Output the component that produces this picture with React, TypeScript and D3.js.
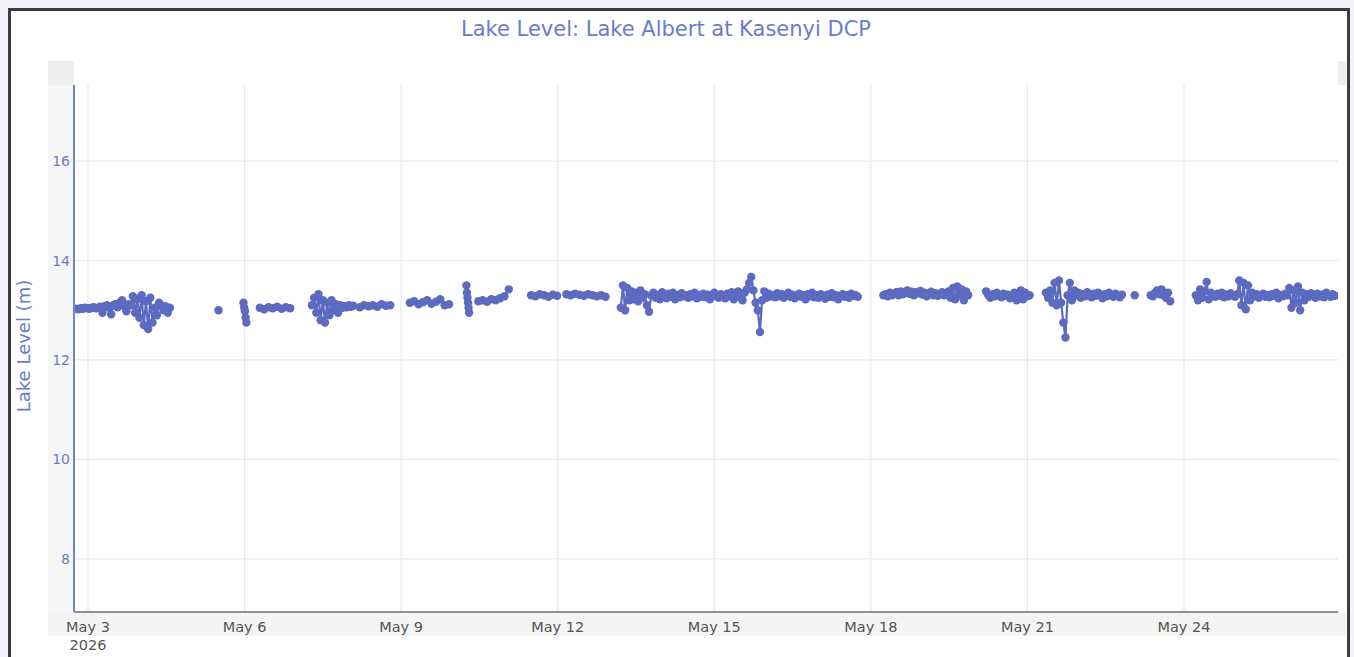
import * as d3 from 'd3';
import { useEffect, useRef } from 'react';

const width = 1354;
const height = 657;

const chartTitle = 'Lake Level: Lake Albert at Kasenyi DCP';
const yTitle = 'Lake Level (m)';
const yTicks = [8, 10, 12, 14, 16];
const xTicks = ['2026-05-03', '2026-05-06', '2026-05-09', '2026-05-12', '2026-05-15', '2026-05-18', '2026-05-21', '2026-05-24'];
const xDomain = ['2026-05-02 17:34', '2026-05-26 22:49'];
const yDomain = [6.93, 17.53];

// each segment: first reading time, reading interval (minutes), readings
const segStarts = [
  '2026-05-02 17:40', '2026-05-05 12:00', '2026-05-05 23:30', '2026-05-06 07:00',
  '2026-05-07 07:00', '2026-05-08 05:00', '2026-05-09 04:00', '2026-05-10 06:00',
  '2026-05-10 11:30', '2026-05-11 11:45', '2026-05-12 04:00', '2026-05-13 05:00',
  '2026-05-18 05:45', '2026-05-20 05:00', '2026-05-21 08:30', '2026-05-23 01:20',
  '2026-05-23 08:40', '2026-05-24 05:25',
];
const segSteps = [60, 60, 20, 120, 60, 120, 120, 15, 120, 120, 120, 60, 60, 60, 60, 60, 60, 60];

const segA = [
  13.02, 13.03, 13.02, 13.04, 13.03, 13.05, 13.04, 13.03, 13.05, 13.06, 13.04, 13.05,
  13.07, 12.95, 13.08, 13.1, 13.05, 12.92, 13.1, 13.12, 13.06, 13.15, 13.2, 13.08, 12.98, 13.12, 13.1,
  13.28, 12.95, 13.22, 12.85, 13.3, 12.7, 13.18, 12.62, 13.25, 12.75,
  13.05, 12.9, 13.15, 13.1, 13.0, 13.08, 12.95, 13.05,
];
const segB = [13.0];
const segC = [13.15, 13.05, 12.98, 12.85, 12.75];
const segD = [13.05, 13.02, 13.06, 13.04, 13.07, 13.03, 13.06, 13.04];
const segE = [13.1, 13.25, 12.95, 13.32, 12.8, 13.2, 12.75, 13.15, 12.9, 13.2, 13.0, 13.12, 12.95, 13.1, 13.05, 13.08, 13.06, 13.1, 13.07, 13.09];
const segF = [13.06, 13.1, 13.08, 13.1, 13.07, 13.12, 13.09, 13.1];
const segG = [13.15, 13.18, 13.12, 13.16, 13.2, 13.13, 13.17, 13.22, 13.1, 13.12];
const segH = [13.5, 13.35, 13.25, 13.15, 13.05, 12.95];
const segI = [13.18, 13.2, 13.17, 13.22, 13.2, 13.24, 13.28, 13.42];
const segJ = [13.3, 13.28, 13.32, 13.3, 13.27, 13.31, 13.29];
const segK = [13.32, 13.3, 13.33, 13.31, 13.29, 13.32, 13.3, 13.28, 13.3, 13.27];
const segL = [
  13.05, 13.5, 13.0, 13.45, 13.2,
  13.38, 13.22, 13.35, 13.18, 13.4, 13.25, 13.32, 13.1, 12.97, 13.3,
  13.35, 13.25, 13.3, 13.22, 13.36, 13.28, 13.24, 13.33, 13.27, 13.35, 13.22, 13.3, 13.26, 13.34, 13.28,
  13.3, 13.25, 13.32, 13.28, 13.35, 13.24, 13.3, 13.27, 13.33, 13.26, 13.31, 13.22, 13.3, 13.35, 13.28,
  13.25, 13.32, 13.3, 13.24, 13.33, 13.28, 13.36, 13.22, 13.3, 13.38, 13.25, 13.2, 13.35, 13.42, 13.55,
  13.67, 13.4, 13.15, 13.0, 12.56, 13.2, 13.38, 13.25, 13.33, 13.28,
  13.3, 13.26, 13.34, 13.28, 13.32, 13.25, 13.3, 13.35, 13.27, 13.31,
  13.24, 13.3, 13.33, 13.27, 13.3, 13.22, 13.32, 13.28, 13.35, 13.26,
  13.3, 13.25, 13.32, 13.29, 13.23, 13.31, 13.27, 13.34, 13.26, 13.3,
  13.22, 13.28, 13.32, 13.27, 13.3, 13.25, 13.33, 13.29, 13.3, 13.27,
];
const segM = [
  13.3, 13.32, 13.28, 13.35, 13.3, 13.33, 13.36, 13.3, 13.38, 13.32,
  13.35, 13.4, 13.33, 13.37, 13.3, 13.36, 13.34, 13.39, 13.31, 13.35,
  13.28, 13.33, 13.37, 13.3, 13.34, 13.29, 13.32, 13.36, 13.3, 13.33,
  13.38, 13.25, 13.45, 13.22, 13.48, 13.3, 13.42, 13.2, 13.38, 13.3,
];
const segN = [13.38, 13.3, 13.25, 13.32, 13.28, 13.35, 13.3, 13.26, 13.33, 13.29, 13.31, 13.24, 13.3, 13.35, 13.2, 13.32, 13.4, 13.22, 13.35, 13.28, 13.3];
const segO = [
  13.35, 13.25, 13.4, 13.15,
  13.55, 13.1, 13.6, 13.15, 12.75, 12.45, 13.3, 13.55, 13.2,
  13.4, 13.3, 13.35, 13.25, 13.32, 13.28, 13.36, 13.3, 13.26, 13.33, 13.29, 13.35,
  13.3, 13.24, 13.32, 13.28, 13.35, 13.3, 13.27, 13.33, 13.3, 13.26, 13.31,
];
const segP = [13.3];
const segQ = [13.3, 13.28, 13.35, 13.4, 13.32, 13.42, 13.3, 13.25, 13.35, 13.18];
const segR = [
  13.3, 13.2, 13.42, 13.25, 13.38, 13.57, 13.22, 13.35,
  13.3, 13.27, 13.33, 13.29, 13.35, 13.26, 13.31, 13.28, 13.34, 13.3, 13.27, 13.32,
  13.6, 13.1, 13.55, 13.02, 13.5, 13.2,
  13.35, 13.28, 13.32, 13.25, 13.3, 13.33, 13.27, 13.3, 13.26, 13.32, 13.29, 13.35, 13.24, 13.3, 13.28, 13.33, 13.3,
  13.45, 13.05, 13.4, 13.15, 13.48, 13.0, 13.35, 13.2,
  13.32, 13.27, 13.34, 13.3, 13.25, 13.33, 13.28, 13.31, 13.26, 13.35, 13.3, 13.27, 13.32, 13.29,
];
const segValues = [segA, segB, segC, segD, segE, segF, segG, segH, segI, segJ, segK, segL, segM, segN, segO, segP, segQ, segR];

const margin = { top: 85, right: 16, bottom: 45, left: 74 };
const traceColor = '#5c6bc0';
const labelColor = '#6b7bcc';
const font = '"DejaVu Sans", Verdana, sans-serif';

const App = () => {
  const svgRef = useRef(null);

  useEffect(() => {
    const parse = d3.timeParse('%Y-%m-%d %H:%M');
    const parseDay = d3.timeParse('%Y-%m-%d');
    const x0 = margin.left;
    const x1 = width - margin.right;
    const y0 = margin.top;
    const y1 = height - margin.bottom;

    const x = d3.scaleTime().domain(xDomain.map((d) => parse(d))).range([x0, x1]);
    const y = d3.scaleLinear().domain(yDomain).range([y1, y0]);

    const segments = segValues.map((vals, i) => {
      const start = parse(segStarts[i]);
      return vals.map((v, j) => ({ t: d3.timeMinute.offset(start, j * segSteps[i]), v }));
    });

    const svg = d3.select(svgRef.current);
    svg.selectAll('*').remove();

    svg.append('rect').attr('width', width).attr('height', height).attr('fill', '#f3f4f9');
    svg
      .append('rect')
      .attr('x', 9.5)
      .attr('y', 9.5)
      .attr('width', 1339)
      .attr('height', 700)
      .attr('fill', '#fff')
      .attr('stroke', '#3d3d3d')
      .attr('stroke-width', 3);

    // grey axis bands
    svg.append('rect').attr('x', 48).attr('y', y0).attr('width', x0 - 48).attr('height', 636 - y0).attr('fill', '#f6f6f6');
    svg.append('rect').attr('x', 48).attr('y', y1).attr('width', 1346 - 48).attr('height', 636 - y1).attr('fill', '#f4f4f4');
    svg.append('rect').attr('x', 48).attr('y', 61).attr('width', x0 - 48).attr('height', y0 - 61).attr('fill', '#eeeeee');
    svg.append('rect').attr('x', x1).attr('y', 61).attr('width', 1346 - x1).attr('height', y0 - 61).attr('fill', '#eeeeee');

    const xTickDates = xTicks.map((d) => parseDay(d));

    // grid
    svg
      .append('g')
      .selectAll('line')
      .data(xTickDates)
      .join('line')
      .attr('x1', (d) => x(d))
      .attr('x2', (d) => x(d))
      .attr('y1', y0)
      .attr('y2', y1)
      .attr('stroke', '#e9e9e9')
      .attr('stroke-width', 1.2);
    svg
      .append('g')
      .selectAll('line')
      .data(yTicks)
      .join('line')
      .attr('x1', x0)
      .attr('x2', x1)
      .attr('y1', (d) => y(d))
      .attr('y2', (d) => y(d))
      .attr('stroke', '#e9e9e9')
      .attr('stroke-width', 1.2);

    svg
      .append('clipPath')
      .attr('id', 'plot-clip')
      .append('rect')
      .attr('x', x0)
      .attr('y', y0)
      .attr('width', x1 - x0)
      .attr('height', y1 - y0);

    const plot = svg.append('g').attr('clip-path', 'url(#plot-clip)');
    const line = d3
      .line<{ t: Date; v: number }>()
      .x((d) => x(d.t))
      .y((d) => y(d.v));

    plot
      .selectAll('path.seg')
      .data(segments)
      .join('path')
      .attr('class', 'seg')
      .attr('d', line)
      .attr('fill', 'none')
      .attr('stroke', traceColor)
      .attr('stroke-width', 2.2);

    plot
      .selectAll('circle')
      .data(segments.flat())
      .join('circle')
      .attr('cx', (d) => x(d.t))
      .attr('cy', (d) => y(d.v))
      .attr('r', 4.2)
      .attr('fill', traceColor);

    // axis lines
    svg.append('line').attr('x1', x0).attr('x2', x1).attr('y1', y1).attr('y2', y1).attr('stroke', '#6e6e6e').attr('stroke-width', 1.5);
    svg.append('line').attr('x1', x0).attr('x2', x0).attr('y1', y0).attr('y2', y1).attr('stroke', '#7383d4').attr('stroke-width', 2);

    // tick labels
    svg
      .append('g')
      .selectAll('text')
      .data(yTicks)
      .join('text')
      .attr('x', x0 - 4)
      .attr('y', (d) => y(d))
      .attr('dy', '0.36em')
      .attr('text-anchor', 'end')
      .attr('fill', labelColor)
      .style('font-family', font)
      .style('font-size', '14px')
      .text((d) => d);

    const fmt = d3.timeFormat('%b %-d');
    svg
      .append('g')
      .selectAll('text')
      .data(xTickDates)
      .join('text')
      .attr('x', (d) => x(d))
      .attr('y', 632)
      .attr('text-anchor', 'middle')
      .attr('fill', '#555')
      .style('font-family', font)
      .style('font-size', '14.5px')
      .text((d) => fmt(d));
    svg
      .append('text')
      .attr('x', x(xTickDates[0]))
      .attr('y', 650)
      .attr('text-anchor', 'middle')
      .attr('fill', '#555')
      .style('font-family', font)
      .style('font-size', '14.5px')
      .text('2026');

    svg
      .append('text')
      .attr('x', 666)
      .attr('y', 36)
      .attr('text-anchor', 'middle')
      .attr('fill', labelColor)
      .style('font-family', font)
      .style('font-size', '21px')
      .text(chartTitle);

    svg
      .append('text')
      .attr('transform', 'translate(30,346) rotate(-90)')
      .attr('text-anchor', 'middle')
      .attr('fill', labelColor)
      .style('font-family', font)
      .style('font-size', '18px')
      .text(yTitle);
  }, []);

  return (
    <svg
      ref={svgRef}
      width={width}
      height={height}
      style={{ position: 'fixed', left: 0, top: 0, display: 'block' }}
    ></svg>
  );
};

export default App;
